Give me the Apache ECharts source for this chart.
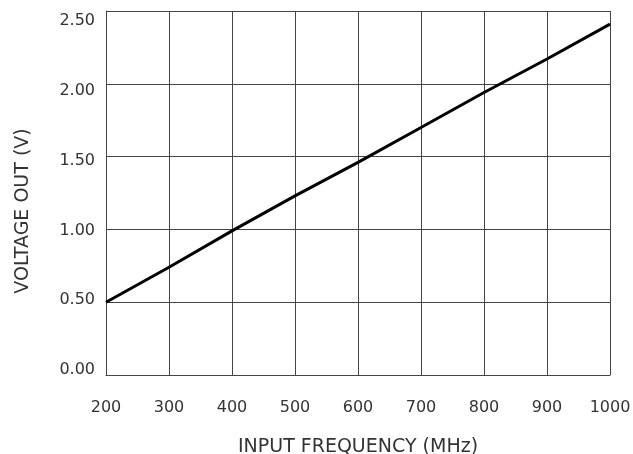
<!DOCTYPE html>
<html>
<head>
<meta charset="utf-8">
<script src="https://cdn.jsdelivr.net/npm/echarts@6/dist/echarts.min.js"></script>
<style>html,body{margin:0;padding:0;background:#fff}#c{width:633px;height:454px}</style>
</head>
<body>
<div id="c"></div>
<script>
var frequency = [200, 300, 400, 500, 600, 700, 800, 900, 1000];
var voltage = [0.50, 0.74, 0.99, 1.23, 1.46, 1.70, 1.94, 2.17, 2.41];
var xTicks = [200, 300, 400, 500, 600, 700, 800, 900, 1000];
var yTicks = ['0.00', '0.50', '1.00', '1.50', '2.00', '2.50'];

var FONT = 'DejaVu Sans';
var chart = echarts.init(document.getElementById('c'));
chart.setOption({
  animation: false,
  backgroundColor: '#fff',
  grid: [
    {left: 106, right: 23, top: 11, bottom: 79, outerBoundsMode: 'none', containLabel: false},
    {left: 106, right: 23, top: 21, bottom: 84, outerBoundsMode: 'none', containLabel: false}
  ],
  xAxis: [{
    type: 'value', min: 200, max: 1000, interval: 100,
    name: 'INPUT FREQUENCY (MHz)', nameLocation: 'middle', nameGap: 63,
    nameTextStyle: {color: '#333', fontSize: 19, fontFamily: FONT},
    axisLine: {show: true, lineStyle: {color: '#444', width: 1}},
    axisTick: {show: false},
    axisLabel: {color: '#333', fontSize: 16, margin: 25, fontFamily: FONT,
      formatter: function (v) { return String(v); }},
    splitLine: {show: true, lineStyle: {color: '#444', width: 1}}
  }, {
    gridIndex: 1, type: 'value', min: 200, max: 1000, show: false
  }],
  yAxis: [{
    type: 'value', min: 0, max: 2.5, interval: 0.5,
    name: 'VOLTAGE OUT (V)', nameLocation: 'middle', nameGap: 73,
    nameTextStyle: {color: '#333', fontSize: 19, fontFamily: FONT, padding: [0, 36, 0, 0]},
    axisLine: {show: true, lineStyle: {color: '#444', width: 1}},
    axisTick: {show: false},
    axisLabel: {show: false},
    splitLine: {show: true, lineStyle: {color: '#444', width: 1}}
  }, {
    gridIndex: 1, type: 'value', min: 0, max: 2.5, interval: 0.5,
    axisLine: {show: false}, axisTick: {show: false}, splitLine: {show: false},
    axisLabel: {color: '#333', fontSize: 16, margin: 11, fontFamily: FONT,
      formatter: function (v) { return yTicks[Math.round(v / 0.5)]; }}
  }],
  series: [{
    type: 'line',
    xAxisIndex: 0, yAxisIndex: 0,
    data: frequency.map(function (f, i) { return [f, voltage[i]]; }),
    showSymbol: false,
    lineStyle: {color: '#000', width: 3}
  }]
});
</script>
</body>
</html>
